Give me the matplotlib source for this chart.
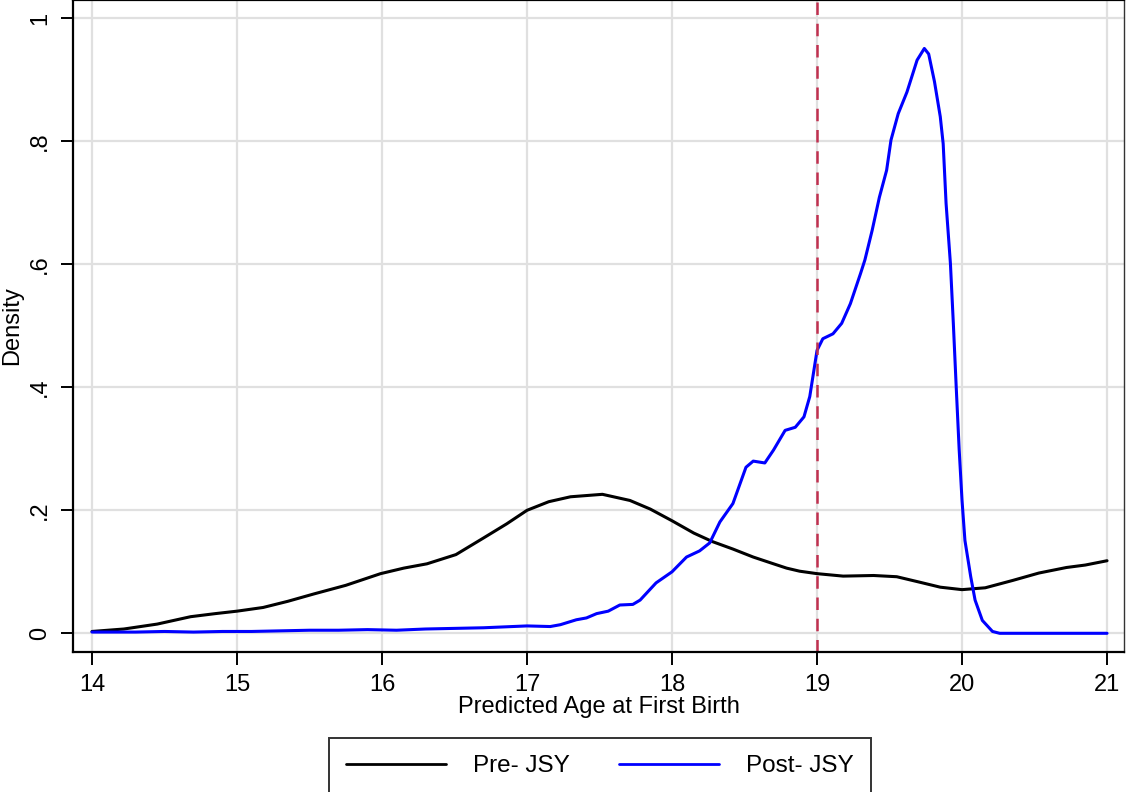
import matplotlib
matplotlib.use("Agg")
import matplotlib.pyplot as plt

plt.rcParams['font.family'] = ['Liberation Sans', 'DejaVu Sans']

# Pre-JSY density
pre_x = [14.0, 14.22, 14.45, 14.68, 14.85, 15.0, 15.18, 15.35, 15.53, 15.75,
         15.99, 16.15, 16.31, 16.51, 16.7, 16.86, 17.0, 17.15, 17.3, 17.52,
         17.71, 17.85, 18.0, 18.15, 18.28, 18.42, 18.56, 18.7, 18.79, 18.88,
         19.0, 19.18, 19.39, 19.55, 19.71, 19.85, 20.0, 20.16, 20.35, 20.53,
         20.72, 20.85, 21.0]
pre_y = [0.003, 0.007, 0.015, 0.027, 0.032, 0.036, 0.042, 0.052, 0.064, 0.078,
         0.097, 0.106, 0.113, 0.128, 0.155, 0.178, 0.200, 0.214, 0.222, 0.226,
         0.216, 0.202, 0.183, 0.163, 0.149, 0.137, 0.124, 0.113, 0.106, 0.101,
         0.097, 0.093, 0.094, 0.092, 0.083, 0.075, 0.071, 0.074, 0.086, 0.098,
         0.107, 0.111, 0.118]

# Post-JSY density
post_x = [14.0, 14.3, 14.5, 14.7, 14.9, 15.1, 15.3, 15.5, 15.7, 15.9,
          16.1, 16.3, 16.5, 16.7, 16.9, 17.0, 17.16, 17.23, 17.34, 17.41,
          17.48, 17.56, 17.64, 17.73, 17.78, 17.89, 18.0, 18.10, 18.19, 18.26,
          18.33, 18.42, 18.51, 18.56, 18.64, 18.70, 18.78, 18.85, 18.91, 18.95,
          19.0, 19.04, 19.11, 19.17, 19.23, 19.30, 19.33, 19.38, 19.43, 19.48,
          19.51, 19.56, 19.62, 19.69, 19.74, 19.77, 19.81, 19.85, 19.87, 19.89,
          19.92, 19.94, 19.96, 19.98, 20.0, 20.02, 20.06, 20.09, 20.14, 20.21,
          20.26, 21.0]
post_y = [0.002, 0.002, 0.003, 0.002, 0.003, 0.003, 0.004, 0.005, 0.005, 0.006,
          0.005, 0.007, 0.008, 0.009, 0.011, 0.012, 0.011, 0.014, 0.022, 0.025,
          0.032, 0.036, 0.046, 0.047, 0.054, 0.082, 0.100, 0.124, 0.134, 0.147,
          0.181, 0.211, 0.270, 0.280, 0.277, 0.298, 0.330, 0.335, 0.352, 0.385,
          0.460, 0.479, 0.487, 0.504, 0.536, 0.585, 0.607, 0.655, 0.709, 0.753,
          0.802, 0.845, 0.880, 0.932, 0.951, 0.942, 0.897, 0.840, 0.796, 0.699,
          0.601, 0.504, 0.400, 0.300, 0.216, 0.151, 0.092, 0.054, 0.021, 0.003,
          0.0, 0.0]

x_ticks = [14, 15, 16, 17, 18, 19, 20, 21]
y_ticks = [0, 0.2, 0.4, 0.6, 0.8, 1.0]
y_ticklabels = ['0', '.2', '.4', '.6', '.8', '1']
cutoff = 19

fig = plt.figure(figsize=(11.26, 7.92), dpi=100)
ax = fig.add_axes([73 / 1126, 140 / 792, 1051 / 1126, 652 / 792])

ax.plot(pre_x, pre_y, color='black', lw=2.2, solid_joinstyle='round',
        solid_capstyle='round', label='Pre- JSY')
ax.plot(post_x, post_y, color='#0000ff', lw=2.2, solid_joinstyle='round',
        solid_capstyle='round', label='Post- JSY')
ax.axvline(cutoff, color='#c0304f', lw=1.8, dashes=(5, 3.5))

ax.set_xlim(13.869, 21.117)
ax.set_ylim(-0.0304, 1.0298)
ax.set_xticks(x_ticks)
ax.set_yticks(y_ticks)
ax.set_yticklabels(y_ticklabels, rotation=90, va='center')
ax.tick_params(axis='both', direction='out', length=9, width=1.4, labelsize=17, pad=7)
ax.grid(True, color='#e0e0e0', lw=1.6)
ax.set_axisbelow(True)

for s in ['left', 'bottom', 'top']:
    ax.spines[s].set_linewidth(1.6)
ax.spines['right'].set_linewidth(1.0)
ax.spines['right'].set_color('#333333')

ax.set_xlabel('Predicted Age at First Birth', fontsize=17, labelpad=0)
ax.set_ylabel('Density', fontsize=17, labelpad=4)

leg = fig.legend(loc='upper center', bbox_to_anchor=(600 / 1126, 1 - 738 / 792), ncol=2,
                 fontsize=17.5, handlelength=4.1, handletextpad=1.1, columnspacing=2.05,
                 borderpad=0.7, borderaxespad=0, fancybox=False, frameon=True,
                 edgecolor='black')
leg.get_frame().set_linewidth(1.4)
for line in leg.get_lines():
    line.set_linewidth(2.0)

fig.savefig('out.png', dpi=100)
